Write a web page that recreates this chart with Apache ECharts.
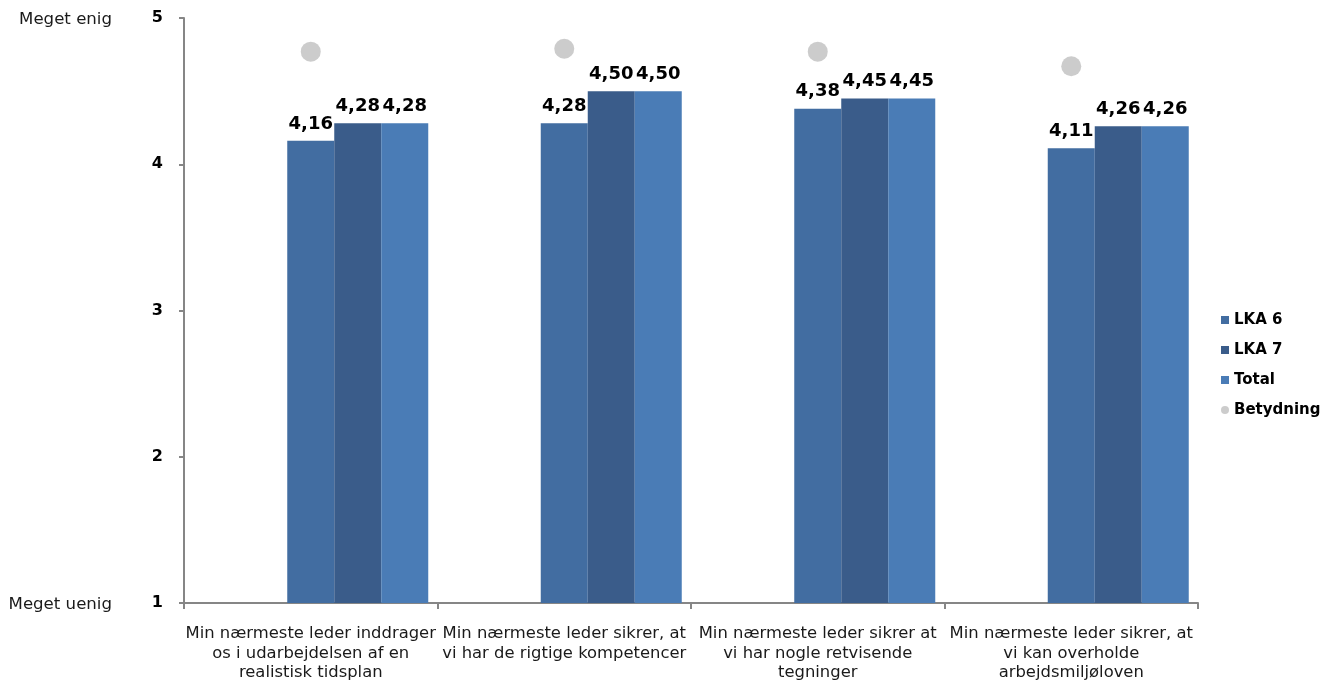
<!DOCTYPE html>
<html>
<head>
<meta charset="utf-8">
<script src="https://cdn.jsdelivr.net/npm/echarts@6/dist/echarts.min.js"></script>
<style>
  html, body { margin: 0; padding: 0; background: #fff; }
  #chart { width: 1340px; height: 687px; }
</style>
</head>
<body>
<div id="chart"></div>
<script>
// Survey statements (x categories)
const categories = [
  'Min nærmeste leder inddrager\nos i udarbejdelsen af en\nrealistisk tidsplan',
  'Min nærmeste leder sikrer, at\nvi har de rigtige kompetencer',
  'Min nærmeste leder sikrer at\nvi har nogle retvisende\ntegninger',
  'Min nærmeste leder sikrer, at\nvi kan overholde\narbejdsmiljøloven'
];
// Average scores per group
const lka6 = [4.16, 4.28, 4.38, 4.11];
const lka7 = [4.28, 4.50, 4.45, 4.26];
const total = [4.28, 4.50, 4.45, 4.26];
// Importance rating
const betydning = [4.77, 4.79, 4.77, 4.67];
// Scale end labels
const yTicks = [1, 2, 3, 4, 5];
const scaleLabels = { 5: 'Meget enig', 1: 'Meget uenig' };

const FONT = 'DejaVu Sans';
const fmt = v => v.toFixed(2).replace('.', ',');

const chart = echarts.init(document.getElementById('chart'));

const barLabel = {
  show: true,
  position: 'top',
  distance: 8,
  fontFamily: FONT,
  fontWeight: 'bold',
  fontSize: 18,
  color: '#000',
  formatter: p => fmt(p.value)
};

// two empty slots keep the three bars in the right-hand part of each group
const empty = categories.map(() => '-');

chart.setOption({
  animation: false,
  textStyle: { fontFamily: FONT },
  grid: { left: 184, right: 142, top: 18, bottom: 84, containLabel: false },
  legend: {
    orient: 'vertical',
    left: 1216,
    top: 307,
    itemWidth: 8,
    itemHeight: 8,
    itemGap: 14,
    data: [
      { name: 'LKA 6', icon: 'rect' },
      { name: 'LKA 7', icon: 'rect' },
      { name: 'Total', icon: 'rect' },
      { name: 'Betydning', icon: 'circle' }
    ],
    textStyle: { fontFamily: FONT, fontWeight: 'bold', fontSize: 15, color: '#000', lineHeight: 16, padding: [0, 0, 0, 0] }
  },
  xAxis: {
    type: 'category',
    data: categories,
    axisLine: { lineStyle: { color: '#868686', width: 2 } },
    axisTick: { show: true, length: 6, lineStyle: { color: '#868686', width: 2 } },
    axisLabel: {
      interval: 0,
      margin: 21,
      fontFamily: FONT,
      fontSize: 16.4,
      lineHeight: 19.5,
      color: '#1a1a1a'
    },
    splitLine: { show: false }
  },
  yAxis: {
    type: 'value',
    min: 1,
    max: 5,
    interval: 1,
    axisLine: { show: true, lineStyle: { color: '#868686', width: 2 } },
    axisTick: { show: true, length: 5, lineStyle: { color: '#868686', width: 2 } },
    axisLabel: {
      margin: 21,
      fontFamily: FONT,
      fontWeight: 'bold',
      fontSize: 16,
      color: '#000',
      formatter: v => (yTicks.includes(v) ? String(v) : '')
    },
    splitLine: { show: false }
  },
  series: [
    { name: 'slotA', type: 'bar', data: empty, barWidth: 47, barGap: '0%', silent: true },
    { name: 'slotB', type: 'bar', data: empty, barWidth: 47, barGap: '0%', silent: true },
    { name: 'LKA 6', type: 'bar', data: lka6, barWidth: 47, barGap: '0%', itemStyle: { color: '#426DA1' }, label: barLabel },
    { name: 'LKA 7', type: 'bar', data: lka7, barWidth: 47, barGap: '0%', itemStyle: { color: '#3A5C8A' }, label: barLabel },
    { name: 'Total', type: 'bar', data: total, barWidth: 47, barGap: '0%', itemStyle: { color: '#4A7CB6' }, label: barLabel },
    { name: 'Betydning', type: 'scatter', data: betydning, symbol: 'circle', symbolSize: 20, itemStyle: { color: '#BFBFBF' } }
  ]
});

// verbal anchors at the ends of the scale, right edge near x = 111
const labelTexts = Object.keys(scaleLabels).map(k => {
  const y = chart.convertToPixel({ yAxisIndex: 0 }, Number(k));
  return {
    type: 'text',
    right: 1340 - 112,
    top: y - 7,
    style: { text: scaleLabels[k], fontFamily: FONT, fontSize: 16.6, fill: '#1a1a1a', textAlign: 'right' }
  };
});
chart.setOption({ graphic: labelTexts });
</script>
</body>
</html>
